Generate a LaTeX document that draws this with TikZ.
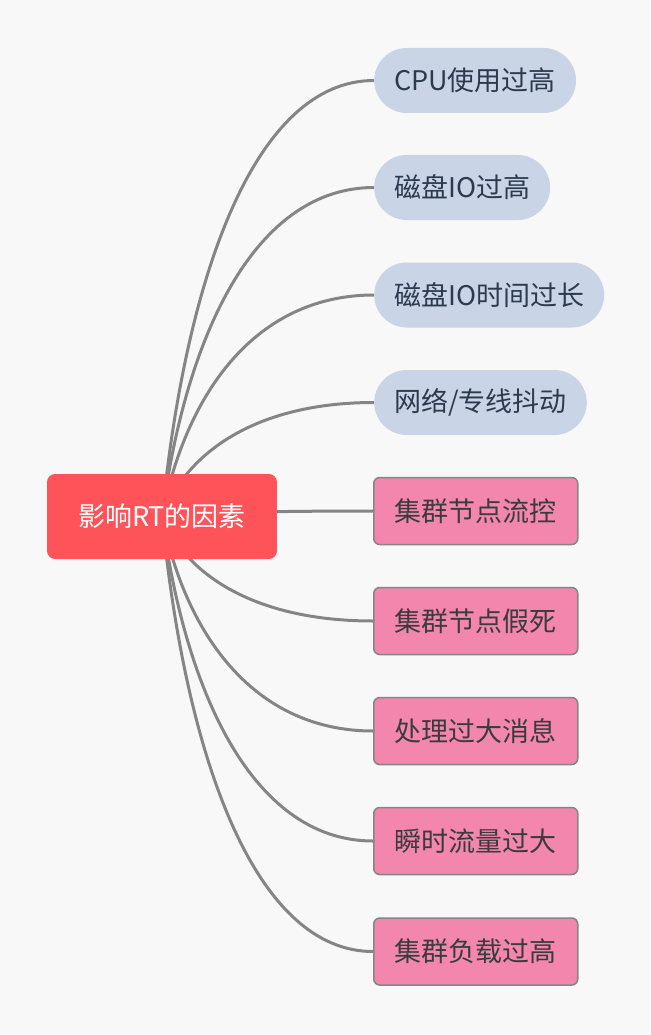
\documentclass[tikz,border=0pt]{standalone}
\usepackage{fontspec}
\setmainfont{Noto Sans CJK SC}
\usetikzlibrary{calc}
\definecolor{paper}{HTML}{F8F8F8}
\definecolor{rootred}{HTML}{FD5359}
\definecolor{pillblue}{HTML}{C9D4E6}
\definecolor{boxpink}{HTML}{F386AD}
\definecolor{linkgray}{HTML}{858585}
\definecolor{inkblue}{HTML}{2C3A50}
\definecolor{inkgray}{HTML}{3B3B3B}
\pgfdeclarelayer{paper}
\pgfdeclarelayer{links}
\pgfsetlayers{paper,links,main}
\def\pillnode{\node[pill,anchor=west]}
\def\boxnode{\node[pinkbox,anchor=west]}
\newcommand\linkto[1]{\draw[link] let \p1=(rt.center), \p2=(#1.west) in
  (\p1) .. controls ({\x1+0.116*(\x2-\x1)},{\y1+0.57*(\y2-(\y1))}) and ({\x2-0.55*(\x2-\x1)},\y2) .. (\p2);}

\begin{document}
\begin{tikzpicture}[x=1pt,y=1pt,font=\fontsize{27}{32}\selectfont,
  root/.style={fill=rootred, text=white, rounded corners=8pt, minimum height=85pt, inner xsep=31pt},
  pill/.style={fill=pillblue, text=inkblue, rounded corners=32.5pt, minimum height=65pt, inner xsep=20pt},
  pinkbox/.style={fill=boxpink, draw=linkgray, line width=1.5pt, text=inkgray, rounded corners=6pt, minimum height=67pt, inner xsep=21pt},
  link/.style={draw=linkgray, line width=3pt}]
\begin{pgfonlayer}{paper}
\fill[paper] (0,0) rectangle (650,-1035);
\end{pgfonlayer}
\useasboundingbox (0,0) rectangle (650,-1035);
\node[root] (rt) at (162,-516.5) {影响RT的因素};
% blue branches
\pillnode (cpu) at (374,-80.5) {CPU使用过高};
\pillnode (diskio) at (374,-187.5) {磁盘IO过高};
\pillnode (iotime) at (374,-295) {磁盘IO时间过长};
\pillnode (net) at (374,-402.5) {网络/专线抖动};
% pink branches
\boxnode (flow) at (373,-511) {集群节点流控};
\boxnode (hang) at (373,-621) {集群节点假死};
\boxnode (bigmsg) at (373,-731) {处理过大消息};
\boxnode (burst) at (373,-841) {瞬时流量过大};
\boxnode (load) at (373,-951.5) {集群负载过高};
\begin{pgfonlayer}{links}
\linkto{cpu}
\linkto{diskio}
\linkto{iotime}
\linkto{net}
\linkto{flow}
\linkto{hang}
\linkto{bigmsg}
\linkto{burst}
\linkto{load}
\end{pgfonlayer}
\end{tikzpicture}
\end{document}
